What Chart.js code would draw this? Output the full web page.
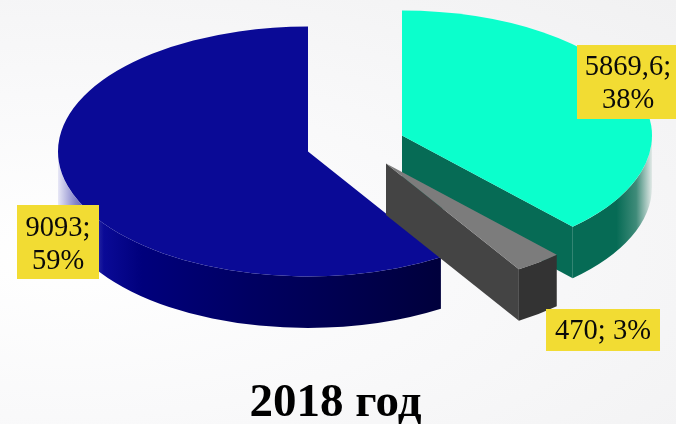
<!DOCTYPE html>
<html>
<head>
<meta charset="utf-8">
<style>
html,body{margin:0;padding:0;width:676px;height:424px;overflow:hidden;
background:radial-gradient(ellipse at 10% 60%,#ffffff 0%,#f9f9fa 45%,#f1f1f2 100%);}
canvas{display:block}
</style>
<script src="https://cdn.jsdelivr.net/npm/chart.js@4"></script>
</head>
<body>
<canvas id="c" width="676" height="424" style="width:676px;height:424px"></canvas>
<script>
// Data (clockwise, starting with the largest slice)
const categories = ["Сегмент 1", "Сегмент 2", "Сегмент 3"];
const values = [9093, 5869.6, 470];
const percents = [59, 38, 3];
const titleText = "2018 год";

// Styles
const topColors = ["#0a0a96", "#0bffcc", "#7c7c7c"];
const wallColors = ["#000060", "#066b55", "#444444"];
const pullX = [-27.5, 66.5, 50.5];
const pullY = [8, -24, 32];
const labelCX = [58, 628, 603];
const labelCY = [243, 82, 330];
const labelBoxes = [[17, 205, 82, 74], [577, 45, 99, 74], [546, 309, 114, 42]];
const labelLines = [2, 2, 1];
const SQUASH = 0.5, DEPTH = 51.5, RADIUS = 250;

const total = values.reduce((a, b) => a + b, 0);
const firstShare = values[0] / total;

function rimFill(ctx, i, x, R) {
  let g;
  if (i === 0) {
    g = ctx.createLinearGradient(x - R, 0, x + 132, 0);
    g.addColorStop(0, "#e8e8f6");
    g.addColorStop(0.045, "#8686cc");
    g.addColorStop(0.12, "#0a0a96");
    g.addColorStop(0.22, "#00007c");
    g.addColorStop(0.5, "#000062");
    g.addColorStop(1, "#00003c");
  } else if (i === 1) {
    g = ctx.createLinearGradient(x + 171, 0, x + R, 0);
    g.addColorStop(0, "#066b55");
    g.addColorStop(0.55, "#066b55");
    g.addColorStop(0.8, "#3f8b79");
    g.addColorStop(1, "#e2e9e7");
  } else {
    return "#333333";
  }
  return g;
}

function drawWalls(ctx, arc, i, cy) {
  const x = arc.x, R = arc.outerRadius, ry = R * SQUASH;
  const y = cy + (arc.y - cy) * SQUASH;
  const s = arc.startAngle, e = arc.endAngle, T = Math.PI * 2;
  // radial wall on the closing edge
  if (Math.sin(e) > 0.01) {
    const ox = x + R * Math.cos(e), oy = y + ry * Math.sin(e);
    ctx.beginPath();
    ctx.moveTo(x, y);
    ctx.lineTo(ox, oy);
    ctx.lineTo(ox, oy + DEPTH);
    ctx.lineTo(x, y + DEPTH);
    ctx.closePath();
    ctx.fillStyle = wallColors[i];
    ctx.fill();
  }
  // outer rim, only the part facing the viewer
  for (let k = -2; k < 3; k++) {
    const a0 = Math.max(s, k * T), a1 = Math.min(e, k * T + Math.PI);
    if (a1 <= a0) continue;
    ctx.beginPath();
    ctx.ellipse(x, y, R, ry, 0, a0, a1);
    ctx.ellipse(x, y + DEPTH, R, ry, 0, a1, a0, true);
    ctx.closePath();
    ctx.fillStyle = rimFill(ctx, i, x, R);
    ctx.fill();
  }
}

const pie3d = {
  id: "pie3d",
  afterDatasetsUpdate(chart) {
    const cx = (chart.chartArea.left + chart.chartArea.right) / 2;
    const cy = (chart.chartArea.top + chart.chartArea.bottom) / 2;
    chart.getDatasetMeta(0).data.forEach((arc, i) => {
      arc.x = cx + pullX[i];
      arc.y = cy + pullY[i];
      if (!arc._flatDraw) arc._flatDraw = arc.draw;
      arc.draw = function (ctx, area) {
        drawWalls(ctx, arc, i, cy);
        ctx.save();
        ctx.translate(0, cy);
        ctx.scale(1, SQUASH);
        ctx.translate(0, -cy);
        arc._flatDraw(ctx, area);
        ctx.restore();
      };
    });
  },
  afterDraw(chart) {
    const ctx = chart.ctx;
    ctx.save();
    ctx.font = '28.5px "Liberation Serif"';
    ctx.textAlign = "center";
    ctx.textBaseline = "alphabetic";
    values.forEach((v, i) => {
      const b = labelBoxes[i];
      ctx.fillStyle = "#f2dc33";
      ctx.fillRect(b[0], b[1], b[2], b[3]);
      ctx.fillStyle = "#0a0a0a";
      const num = String(v).replace(".", ",") + ";";
      const pct = percents[i] + "%";
      if (labelLines[i] === 2) {
        ctx.fillText(num, labelCX[i], labelCY[i] - 7);
        ctx.fillText(pct, labelCX[i], labelCY[i] + 26);
      } else {
        ctx.fillText(num + " " + pct, labelCX[i], labelCY[i] + 9);
      }
    });
    ctx.restore();
  }
};

new Chart(document.getElementById("c"), {
  type: "pie",
  data: {
    labels: categories,
    datasets: [{
      data: values,
      backgroundColor: topColors,
      borderWidth: 0,
      clip: false,
      radius: RADIUS
    }]
  },
  options: {
    responsive: false,
    animation: false,
    events: [],
    devicePixelRatio: 1,
    rotation: -firstShare * 360,
    layout: { padding: { right: 5 } },
    plugins: {
      legend: { display: false },
      tooltip: { enabled: false },
      title: {
        display: true,
        text: titleText,
        position: "bottom",
        color: "#000000",
        padding: { top: 85, bottom: -3 },
        font: { family: '"Liberation Serif"', size: 47, weight: "bold", lineHeight: 1 }
      }
    }
  },
  plugins: [pie3d]
});
</script>
</body>
</html>
